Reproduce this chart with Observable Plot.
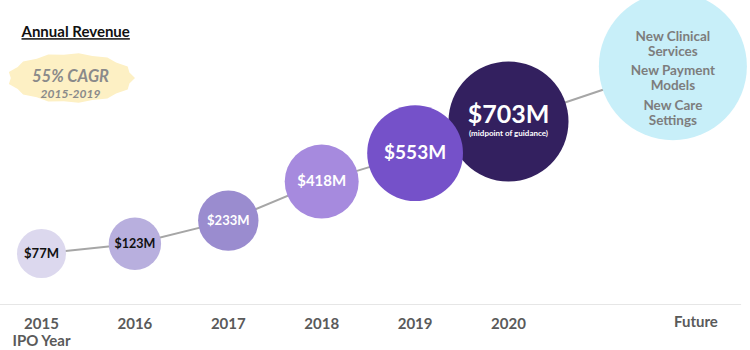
<!DOCTYPE html>
<html><head><meta charset="utf-8">
<script src="https://cdn.jsdelivr.net/npm/d3@7"></script>
<script src="https://cdn.jsdelivr.net/npm/@observablehq/plot@0.6"></script>
<style>
body{margin:0;background:#fff;}
#chart svg{display:block;}
</style></head><body><div id="chart"></div>
<script>
// ---- data ----
const years = [2015, 2016, 2017, 2018, 2019, 2020];
const revenue = [77, 123, 233, 418, 553, 703];
const revenueLabels = ["$77M", "$123M", "$233M", "$418M", "$553M", "$703M"];
const tickLabels = ["2015\nIPO Year", "2016", "2017", "2018", "2019", "2020"];
const guidanceNote = "(midpoint of guidance)";
const futureLabel = "Future";
const futureYear = 2021.76;
const futureLevel = 965;
const futureItems = ["New Clinical\nServices", "New Payment\nModels", "New Care\nSettings"];
const title = "Annual Revenue";
const cagrLabel = "55% CAGR";
const cagrPeriod = "2015-2019";

// ---- styles ----
const circleFill = ["#dcd8ee", "#b8afde", "#9a8ccf", "#a68ade", "#7551c9", "#33205f"];
const labelFill = ["#111", "#111", "#fff", "#fff", "#fff", "#fff"];
const labelSize = [13, 12.5, 13, 15, 19, 25];
const labelShift = [0, 0, 0, 0, 0, -7];
const font = "Lato, 'Open Sans', sans-serif";

const rows = years.map((year, i) => ({
  year, revenue: revenue[i], label: revenueLabels[i], tick: tickLabels[i],
  fill: circleFill[i], color: labelFill[i], size: labelSize[i], shift: labelShift[i]
}));
const path = [...rows.map(d => ({x: d.year, y: d.revenue})), {x: futureYear, y: futureLevel}];
const future = [{x: futureYear, y: futureLevel}];

function badge() {
  const cx = 71, cy = 78, rx = 64, ry = 25, n = 26;
  const pts = d3.range(n).map(k => {
    const a = 2 * Math.PI * k / n, s = k % 2 ? 0.94 : 1;
    return [cx + rx * s * Math.cos(a), cy + ry * s * Math.sin(a)];
  });
  return d3.create("svg:path").attr("d", "M" + pts.join("L") + "Z").attr("fill", "#fdf0c4").node();
}

const mainLabels = rows.filter(d => d.shift === 0);
const shiftedLabels = rows.filter(d => d.shift !== 0);

const chart = Plot.plot({
  width: 750, height: 350,
  marginTop: 0, marginLeft: 0, marginRight: 10, marginBottom: 46,
  style: {fontFamily: font, background: "#fff"},
  x: {type: "linear", domain: [2015, 2020], range: [41, 508], axis: null},
  y: {type: "linear", domain: [77, 703], range: [253, 121], axis: null},
  r: {type: "linear", domain: [77, 418, 703], range: [24.5, 37, 60]},
  color: {type: "identity"},
  marks: [
    Plot.frame({anchor: "bottom", stroke: "#e6e6e6", strokeWidth: 1.2}),
    badge,
    Plot.text([cagrLabel], {text: d => d, frameAnchor: "top-left", textAnchor: "middle", dx: 70, dy: 70, fontSize: 16.5, fontWeight: 700, fontStyle: "italic", fill: "#8a8a8a"}),
    Plot.text([cagrPeriod], {text: d => d, frameAnchor: "top-left", textAnchor: "middle", dx: 70, dy: 89, fontSize: 12, fontWeight: 700, fontStyle: "italic", fill: "#8a8a8a"}),
    Plot.text([title], {text: d => d, frameAnchor: "top-left", textAnchor: "start", dx: 21, dy: 26, fontSize: 15, fontWeight: 700, fill: "#111"}),
    Plot.line(path, {x: "x", y: "y", stroke: "#a6a6a6", strokeWidth: 2}),
    Plot.dot(rows, {x: "year", y: "revenue", r: "revenue", fill: "fill", stroke: "none"}),
    Plot.dot(future, {x: "x", y: "y", r: 74, fill: "#c8eff9", stroke: "none"}),
    Plot.text(mainLabels, {x: "year", y: "revenue", text: "label", fill: "color", fontSize: "size", fontWeight: 700}),
    Plot.text(shiftedLabels, {x: "year", y: "revenue", text: "label", fill: "color", fontSize: "size", fontWeight: 700, dy: -7}),
    Plot.text(shiftedLabels, {x: "year", y: "revenue", text: () => guidanceNote, fill: "#fff", fontSize: 8, fontWeight: 700, dy: 12}),
    ...futureItems.map((t, i) => Plot.text([t], {x: () => futureYear, y: () => futureLevel, text: d => d,
      dy: -22.5 + 34.25 * i, fontSize: 13.5, fontWeight: 700, fill: "#7d7d7d", lineHeight: 1.12})),
    Plot.text(rows, {x: "year", text: "tick", frameAnchor: "bottom", lineAnchor: "top", dy: 12, fontSize: 15, fontWeight: 700, fill: "#5a5a5a", lineHeight: 1.15}),
    Plot.text([futureLabel], {x: () => futureYear, text: d => d, frameAnchor: "bottom", lineAnchor: "top", dy: 12, dx: 23, fontSize: 15, fontWeight: 700, fill: "#5a5a5a"})
  ]
});
document.getElementById("chart").appendChild(chart);
d3.select(chart).selectAll("text").filter(function() { return this.textContent === title; })
  .style("text-decoration", "underline");
</script></body></html>
